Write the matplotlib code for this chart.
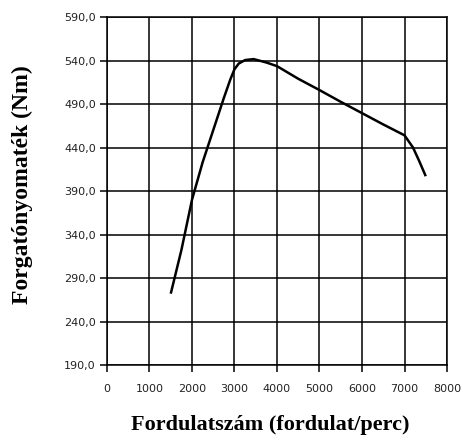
import matplotlib
matplotlib.use("Agg")
import matplotlib.pyplot as plt

rpm = [1500, 1750, 2000, 2250, 2500, 2750, 2900, 3000, 3100, 3250, 3450, 3750, 4000,
       4500, 5000, 5500, 6000, 6500, 7000, 7200, 7350, 7500]
torque = [272, 322, 380, 423, 460, 497, 518, 530, 536.5, 540.5, 541.6, 537.7, 533.5,
          519, 506, 492.5, 479.5, 466.5, 454, 440, 424, 407]

yticks = [190, 240, 290, 340, 390, 440, 490, 540, 590]
xticks = [0, 1000, 2000, 3000, 4000, 5000, 6000, 7000, 8000]

fig = plt.figure(figsize=(4.64, 4.40), dpi=100)
ax = fig.add_axes([107/464, 1-365/440, 340/464, 348/440])

ax.plot(rpm, torque, color="black", lw=1.8, solid_joinstyle="round", solid_capstyle="butt")
ax.set_xlim(0, 8000)
ax.set_ylim(190, 590)
ax.set_xticks(xticks)
ax.set_yticks(yticks)
ax.set_xticklabels([str(v) for v in xticks])
ax.set_yticklabels([f"{v},0" for v in yticks])
ax.grid(True, color="black", lw=1.1)
ax.set_axisbelow(True)
for s in ax.spines.values():
    s.set_color("black")
    s.set_linewidth(1.1)
ax.tick_params(axis="both", direction="out", length=5, width=1.1, colors="black",
               labelsize=8, pad=3)
for lab in ax.get_xticklabels() + ax.get_yticklabels():
    lab.set_fontfamily("DejaVu Sans")
    lab.set_color("#222222")
ax.tick_params(axis="x", pad=9)

fig.text(270/464, 1-425/440, "Fordulatszám (fordulat/perc)", ha="center", va="center",
         fontfamily="Liberation Serif", fontweight="bold", fontsize=16)
fig.text(22/464, 1-185/440, "Forgatónyomaték (Nm)", ha="center", va="center", rotation=90,
         fontfamily="Liberation Serif", fontweight="bold", fontsize=17)

fig.savefig("out.png", dpi=100)
